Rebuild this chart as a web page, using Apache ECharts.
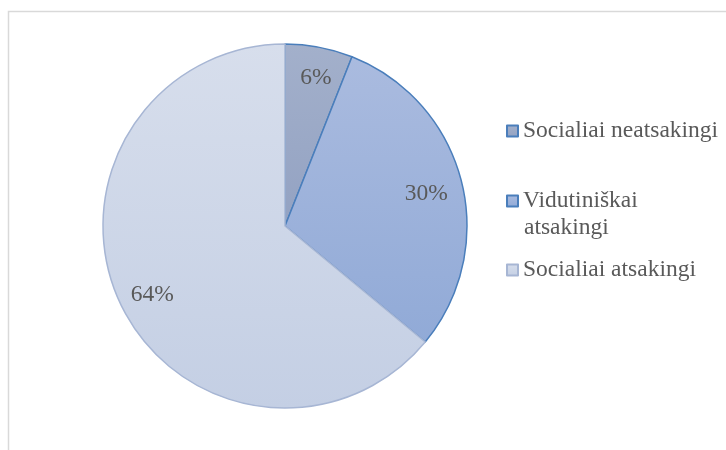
<!DOCTYPE html>
<html><head><meta charset="utf-8">
<script src="https://cdn.jsdelivr.net/npm/echarts@6/dist/echarts.min.js"></script>
<style>html,body{margin:0;padding:0;background:#fff}#c{width:726px;height:450px}</style>
</head><body><div id="c"></div>
<script>
const categories = ['Socialiai neatsakingi', 'Vidutiniškai atsakingi', 'Socialiai atsakingi'];
const values = [6, 30, 64];
const labels = ['6%', '30%', '64%'];

const fills = [
  ['#a3b0cb', '#93a2c2'],
  ['#aabbdf', '#91aad7'],
  ['#d7deec', '#c4cfe4']
];
const borders = ['#4a7ebb', '#4a7ebb', '#a7b6d4'];
const FONT = '"Liberation Serif", "Times New Roman", serif';
const FS = 23.5;
const labelOffsets = [[3, -2], [-3, 5], [2, 5]];

function grad(c){return new echarts.graphic.LinearGradient(0,0,0,1,[{offset:0,color:c[0]},{offset:1,color:c[1]}]);}

const baseData = categories.map((n,i)=>({name:n,value:values[i],
  itemStyle:{color:grad(fills[i]),borderColor:borders[i],borderWidth:1.5}}));
const labelData = categories.map((n,i)=>({name:n,value:values[i],label:{offset:labelOffsets[i]}}));

const chart = echarts.init(document.getElementById('c'));
const legendCommon = {orient:'vertical',icon:'rect',itemWidth:11,itemHeight:11,itemGap:10,
  textStyle:{fontFamily:FONT,fontSize:FS,color:'#595959'},selectedMode:false};
chart.setOption({
  animation:false,
  graphic:[{type:'rect',shape:{x:8.5,y:11.5,width:800,height:600},style:{fill:'none',stroke:'#d9d9d9',lineWidth:1.5},silent:true},
    {type:'text',left:524,top:216,style:{text:'atsakingi',font:FS+'px '+FONT,fill:'#595959'}}],
  legend:[
    Object.assign({},legendCommon,{left:501,top:114,data:[categories[0]]}),
    Object.assign({},legendCommon,{left:501,top:184,data:[categories[1]],formatter:()=>'Vidutiniškai'}),
    Object.assign({},legendCommon,{left:501,top:253,data:[categories[2]]})
  ],
  series:[
    {type:'pie',center:[285,226],radius:[0,182],startAngle:90,clockwise:true,
     label:{show:false},labelLine:{show:false},emphasis:{disabled:true},data:baseData},
    {type:'pie',center:[285,226],radius:[110,182],startAngle:90,clockwise:true,silent:true,
     itemStyle:{color:'rgba(0,0,0,0)',borderWidth:0},
     label:{show:true,position:'inside',formatter:p=>labels[p.dataIndex],fontFamily:FONT,fontSize:FS,color:'#595959'},
     labelLine:{show:false},emphasis:{disabled:true},data:labelData}
  ]
});
</script></body></html>
